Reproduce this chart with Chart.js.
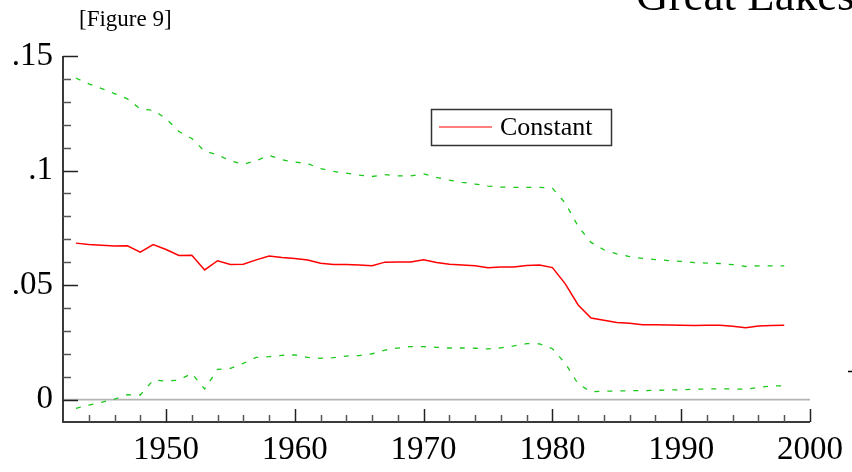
<!DOCTYPE html>
<html>
<head>
<meta charset="utf-8">
<style>
  html, body { margin: 0; padding: 0; background: #fff; }
  #wrap { width: 852px; height: 472px; position: relative; }
</style>
<script src="https://cdn.jsdelivr.net/npm/chart.js@4.4.1/dist/chart.umd.min.js"></script>
</head>
<body>
<div id="wrap"><canvas id="fig9" width="852" height="472"></canvas></div>
<script>
// data
const years = [1943, 1944, 1945, 1946, 1947, 1948, 1949, 1950, 1951, 1952,
    1953, 1954, 1955, 1956, 1957, 1958, 1959, 1960, 1961, 1962,
    1963, 1964, 1965, 1966, 1967, 1968, 1969, 1970, 1971, 1972,
    1973, 1974, 1975, 1976, 1977, 1978, 1979, 1980, 1981, 1982,
    1983, 1984, 1985, 1986, 1987, 1988, 1989, 1990, 1991, 1992,
    1993, 1994, 1995, 1996, 1997, 1998];

const constant = [0.0683, 0.0677, 0.0674, 0.0670, 0.0671, 0.0644, 0.0677, 0.0655, 0.0629, 0.0630,
    0.0566, 0.0606, 0.0590, 0.0591, 0.0610, 0.0627, 0.0620, 0.0616, 0.0609, 0.0595,
    0.0590, 0.0590, 0.0587, 0.0584, 0.0600, 0.0601, 0.0601, 0.0610, 0.0598, 0.0591,
    0.0588, 0.0584, 0.0576, 0.0579, 0.0579, 0.0585, 0.0587, 0.0576, 0.0505, 0.0413,
    0.0356, 0.0346, 0.0336, 0.0333, 0.0327, 0.0327, 0.0326, 0.0324, 0.0323, 0.0324,
    0.0324, 0.0320, 0.0314, 0.0321, 0.0323, 0.0324];

const upperBand = [0.1404, 0.1378, 0.1358, 0.1336, 0.1313, 0.1269, 0.1263, 0.1227, 0.1170, 0.1140,
    0.1084, 0.1069, 0.1042, 0.1027, 0.1043, 0.1066, 0.1047, 0.1037, 0.1030, 0.1008,
    0.0996, 0.0989, 0.0980, 0.0974, 0.0982, 0.0977, 0.0977, 0.0985, 0.0970, 0.0958,
    0.0948, 0.0941, 0.0932, 0.0928, 0.0926, 0.0926, 0.0926, 0.0923, 0.0858, 0.0756,
    0.0686, 0.0654, 0.0636, 0.0624, 0.0616, 0.0611, 0.0607, 0.0603, 0.0598, 0.0596,
    0.0594, 0.0589, 0.0581, 0.0584, 0.0584, 0.0584];

const lowerBand = [-0.0039, -0.0024, -0.0012, 0.0002, 0.0021, 0.0020, 0.0085, 0.0081, 0.0085, 0.0114,
    0.0046, 0.0132, 0.0136, 0.0158, 0.0184, 0.0187, 0.0193, 0.0195, 0.0184, 0.0180,
    0.0183, 0.0190, 0.0192, 0.0200, 0.0216, 0.0225, 0.0231, 0.0231, 0.0228, 0.0225,
    0.0225, 0.0224, 0.0221, 0.0226, 0.0234, 0.0244, 0.0243, 0.0222, 0.0158, 0.0068,
    0.0034, 0.0037, 0.0037, 0.0039, 0.0039, 0.0040, 0.0042, 0.0043, 0.0045, 0.0046,
    0.0047, 0.0046, 0.0045, 0.0053, 0.0059, 0.0060];

const xTicks = [1950, 1960, 1970, 1980, 1990, 2000];
const yTicks = [0, 0.05, 0.1, 0.15];

const SERIF = '"Liberation Serif", "Times New Roman", serif';

function pts(vals) {
    return years.map(function (yr, i) { return { x: yr, y: vals[i] }; });
}

// axes, inward tick marks, zero line, legend and headings
const figureDecor = {
    id: 'figureDecor',
    beforeDatasetsDraw: function (chart) {
        const ctx = chart.ctx;
        const a = chart.chartArea;
        const y0 = chart.scales.y.getPixelForValue(0);
        ctx.save();
        ctx.strokeStyle = '#b4b4b4';
        ctx.lineWidth = 1.8;
        ctx.beginPath();
        ctx.moveTo(a.left, y0);
        ctx.lineTo(a.right, y0);
        ctx.stroke();
        ctx.restore();
    },
    afterDatasetsDraw: function (chart) {
        const ctx = chart.ctx;
        const a = chart.chartArea;
        const xs = chart.scales.x;
        const ys = chart.scales.y;
        ctx.save();

        // axis lines
        ctx.strokeStyle = '#3a3a3a';
        ctx.lineWidth = 2;
        ctx.beginPath();
        ctx.moveTo(a.left, a.top);
        ctx.lineTo(a.left, a.bottom);
        ctx.lineTo(a.right, a.bottom);
        ctx.stroke();

        // y ticks every .01, long at every .05
        ctx.lineWidth = 1.5;
        for (let k = 0; k <= 15; k++) {
            const py = Math.round(ys.getPixelForValue(k / 100)) + 0.5;
            const len = (k % 5 === 0) ? 15 : 8;
            ctx.strokeStyle = (k % 5 === 0) ? '#222' : '#555';
            ctx.beginPath();
            ctx.moveTo(a.left, py);
            ctx.lineTo(a.left + len, py);
            ctx.stroke();
        }
        // x ticks every 2 years, long at decades
        for (let yr = 1944; yr <= 2000; yr += 2) {
            const px = Math.round(xs.getPixelForValue(yr)) + 0.5;
            const len = (yr % 10 === 0) ? 13 : 7;
            ctx.strokeStyle = (yr % 10 === 0) ? '#222' : '#555';
            ctx.beginPath();
            ctx.moveTo(px, a.bottom);
            ctx.lineTo(px, a.bottom - len);
            ctx.stroke();
        }

        // legend box
        const ds = chart.data.datasets[0];
        ctx.strokeStyle = '#333';
        ctx.lineWidth = 1.5;
        ctx.strokeRect(431.5, 109.5, 180, 36);
        ctx.strokeStyle = ds.borderColor;
        ctx.lineWidth = 1.2;
        ctx.beginPath();
        ctx.moveTo(439, 127);
        ctx.lineTo(492, 127);
        ctx.stroke();
        ctx.fillStyle = '#000';
        ctx.font = '26px ' + SERIF;
        ctx.textBaseline = 'middle';
        ctx.textAlign = 'left';
        ctx.fillText(ds.label, 500, 128);

        // headings
        ctx.textBaseline = 'alphabetic';
        ctx.font = '23px ' + SERIF;
        ctx.fillText('[Figure 9]', 79, 26);
        ctx.font = '45px ' + SERIF;
        ctx.fillText('Great Lakes', 636, 10);

        // stray mark at the right edge
        ctx.strokeStyle = '#000';
        ctx.lineWidth = 1.5;
        ctx.beginPath();
        ctx.moveTo(848, 371.5);
        ctx.lineTo(852, 371.5);
        ctx.stroke();
        ctx.restore();
    }
};

new Chart(document.getElementById('fig9'), {
    type: 'line',
    data: {
        datasets: [{
            label: 'Constant',
            data: pts(constant),
            borderColor: '#ff0000',
            borderWidth: 1.5,
            pointRadius: 0,
            tension: 0
        }, {
            label: 'upper',
            data: pts(upperBand),
            borderColor: '#19c819',
            borderWidth: 1.3,
            borderDash: [5, 8],
            pointRadius: 0,
            tension: 0
        }, {
            label: 'lower',
            data: pts(lowerBand),
            borderColor: '#19c819',
            borderWidth: 1.3,
            borderDash: [5, 8],
            pointRadius: 0,
            tension: 0
        }]
    },
    options: {
        responsive: false,
        animation: false,
        events: [],
        layout: { padding: { top: 56, right: 41, left: 0, bottom: 0 } },
        plugins: { legend: { display: false }, tooltip: { enabled: false } },
        scales: {
            x: {
                type: 'linear',
                min: 1942,
                max: 2000,
                grid: { display: false, drawTicks: false },
                border: { display: false },
                afterBuildTicks: function (s) { s.ticks = xTicks.map(function (v) { return { value: v }; }); },
                afterFit: function (s) { s.height = 50; },
                ticks: {
                    color: '#000',
                    padding: 9,
                    maxRotation: 0,
                    font: { family: SERIF, size: 33 },
                    callback: function (v) { return String(v); }
                }
            },
            y: {
                min: -0.0098,
                max: 0.15,
                grid: { display: false, drawTicks: false },
                border: { display: false },
                afterBuildTicks: function (s) { s.ticks = yTicks.map(function (v) { return { value: v }; }); },
                afterFit: function (s) { s.width = 63; },
                ticks: {
                    color: '#000',
                    padding: 10,
                    font: { family: SERIF, size: 33 },
                    callback: function (v) { return v === 0 ? '0' : String(v).replace(/^0/, ''); }
                }
            }
        }
    },
    plugins: [figureDecor]
});
</script>
</body>
</html>
